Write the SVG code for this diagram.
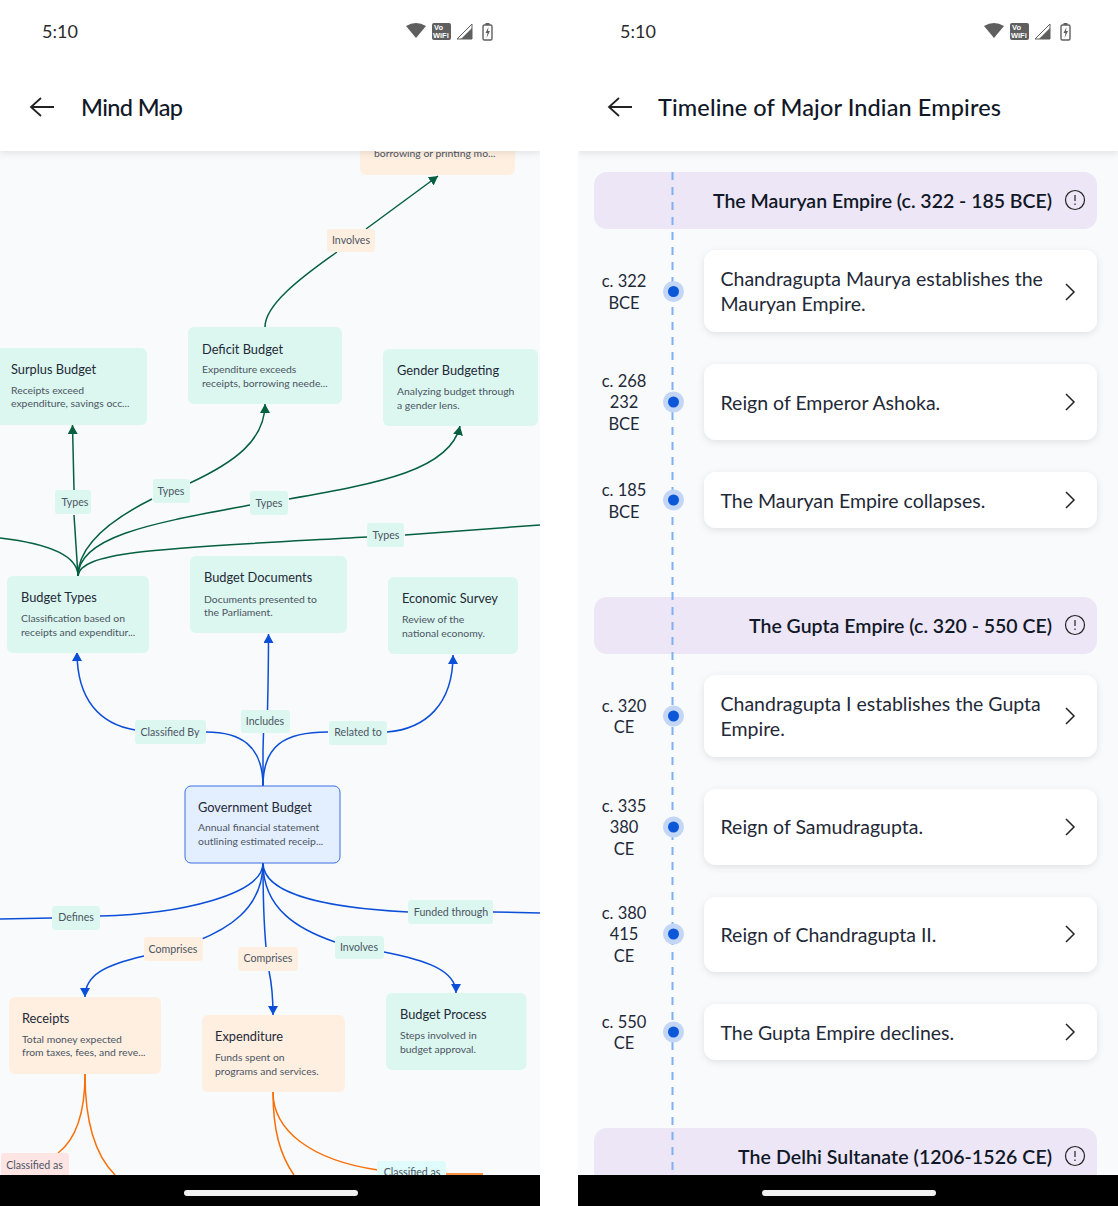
<svg xmlns="http://www.w3.org/2000/svg" width="1118" height="1206" viewBox="0 0 1118 1206">
<defs>
<style>
text{font-family:"Lato","Noto Sans",sans-serif}
.clk{font-size:18px;fill:#2b2b2b}
.hd{font-size:23.5px;fill:#111827;font-weight:500}
.nt{font-size:12.8px;fill:#1f2937}
.nd{font-size:10.4px;fill:#4b5563;transform:translateY(-.8px)}
.lb{font-size:10.6px;fill:#4b5563;text-anchor:middle}
.g{fill:#dcf7ef}.o{fill:#ffefe1}
.ln{fill:none;stroke-width:1.5}
.blue{stroke:#0b4fd8}.green{stroke:#04603f}.orange{stroke:#f97008}
.tl{font-size:16.5px;fill:#1f2937;text-anchor:middle}
.ct{font-size:19.500px;fill:#1f2937}
.sh{font-size:19.500px;fill:#111827;font-weight:600;text-anchor:end}
.chev{fill:none;stroke:#222;stroke-width:1.5}
</style>
<marker id="ab" markerWidth="9" markerHeight="10" refX="9" refY="5" orient="auto" markerUnits="userSpaceOnUse" viewBox="0 0 9 10"><path d="M0 0L9 5L0 10Z" fill="#0b4fd8"/></marker>
<marker id="ag" markerWidth="9" markerHeight="10" refX="9" refY="5" orient="auto" markerUnits="userSpaceOnUse" viewBox="0 0 9 10"><path d="M0 0L9 5L0 10Z" fill="#04603f"/></marker>
<filter id="s" x="-10%" y="-20%" width="120%" height="150%"><feDropShadow dx="0" dy="2" stdDeviation="3.5" flood-color="#000" flood-opacity=".1"/></filter>
<g id="status"><path d="M-10 -5Q0 -11 10 -5L0 7Z" fill="#5f5f5f"/><rect x="16" y="-8" width="19" height="17" rx="2" fill="#5f5f5f"/><text x="18" y="-1" font-size="7.500" font-weight="700" fill="#fff" style="font-family:'Liberation Sans'">Vo</text><text x="17" y="7" font-size="7.500" font-weight="700" fill="#fff" style="font-family:'Liberation Sans'">WiFi</text><path d="M41 8L56 -7V8Z" fill="none" stroke="#5f5f5f" stroke-width="1"/><path d="M45 8L56 -3V8Z" fill="#5f5f5f"/><rect x="67" y="-6" width="9" height="15" rx="1.500" fill="none" stroke="#5f5f5f" stroke-width="1.400"/><rect x="69.500" y="-8" width="4" height="2" fill="#5f5f5f"/><path d="M72.500 -4L69.500 2H71.500L70.500 7L74 0H72Z" fill="#5f5f5f"/></g>
</defs>
<rect width="1118" height="1206" fill="#fff"/>
<rect x="0" y="151" width="540" height="1024" fill="#f8fafc"/>
<rect x="578" y="151" width="540" height="1024" fill="#f8fafc"/>

<g id="connectors">
<path class="ln blue" d="M263 786C263 745 240 732 206 732"/><path class="ln blue" d="M135 730C100 724 77 700 77 652" marker-end="url(#ab)"/>
<path class="ln blue" d="M263 786V750L263.500 733"/><path class="ln blue" d="M267.500 710C268 690 268.500 660 268.500 634" marker-end="url(#ab)"/>
<path class="ln blue" d="M263 786C263 745 285 732 328 732"/><path class="ln blue" d="M387 732C425 729 453 705 453 655" marker-end="url(#ab)"/>
<path class="ln blue" d="M263 863C263 895 180 914 100 916"/><path class="ln blue" d="M52 918L0 919"/>
<path class="ln blue" d="M263 863C263 910 225 930 197 941"/><path class="ln blue" d="M144 956C105 965 85 975 85 997" marker-end="url(#ab)"/>
<path class="ln blue" d="M263 863C263 900 264 925 266 947"/><path class="ln blue" d="M269 971C272 985 273 1000 273 1015" marker-end="url(#ab)"/>
<path class="ln blue" d="M263 863C263 910 300 930 335 942"/><path class="ln blue" d="M384 952C425 960 456 970 456 993" marker-end="url(#ab)"/>
<path class="ln blue" d="M263 863C263 895 330 908 408 912"/><path class="ln blue" d="M493 912L540 913"/>

<path class="ln green" d="M78 576C78 560 60 545 0 538"/>
<path class="ln green" d="M78 576L74 515"/><path class="ln green" d="M74 490L72.500 425" marker-end="url(#ag)"/>
<path class="ln green" d="M78 576C78 545 110 520 152 499"/><path class="ln green" d="M190 483C235 462 265 440 265 404" marker-end="url(#ag)"/>
<path class="ln green" d="M78 576C78 535 160 522 250 505"/><path class="ln green" d="M289 499C380 483 450 470 460 426" marker-end="url(#ag)"/>
<path class="ln green" d="M78 576C80 550 170 548 367 537"/><path class="ln green" d="M405 535L540 525"/>
<path class="ln green" d="M265 327C265 305 300 278 337 252"/><path class="ln green" d="M366 229L438 176" marker-end="url(#ag)"/>

<path class="ln orange" d="M85 1074C85 1115 75 1140 58 1153"/>
<path class="ln orange" d="M85 1074C85 1120 95 1155 115 1175"/>
<path class="ln orange" d="M273 1092C273 1130 280 1155 294 1175"/>
<path class="ln orange" d="M273 1092C273 1130 310 1160 378 1170"/>
<path class="ln orange" d="M445 1174H483"/>
</g>

<g id="top-node"><path class="o" d="M360 151H515V169a6 6 0 0 1-6 6H366a6 6 0 0 1-6-6Z"/><text class="nd" x="374" y="158">borrowing or printing mo...</text></g>
<g id="surplus"><path class="g" d="M0 348H141a6 6 0 0 1 6 6V419a6 6 0 0 1-6 6H0Z"/><text class="nt" x="11" y="373.500">Surplus Budget</text><text class="nd" x="11" y="395">Receipts exceed</text><text class="nd" x="11" y="408">expenditure, savings occ...</text></g>
<g id="deficit"><rect class="g" x="188" y="327" width="154" height="77" rx="6"/><text class="nt" x="202" y="353.500">Deficit Budget</text><text class="nd" x="202" y="374">Expenditure exceeds</text><text class="nd" x="202" y="388">receipts, borrowing neede...</text></g>
<g id="gender"><rect class="g" x="383" y="349" width="155" height="77" rx="6"/><text class="nt" x="397" y="375">Gender Budgeting</text><text class="nd" x="397" y="396">Analyzing budget through</text><text class="nd" x="397" y="410">a gender lens.</text></g>
<g id="types"><rect class="g" x="7" y="576" width="142" height="77" rx="6"/><text class="nt" x="21" y="601.500">Budget Types</text><text class="nd" x="21" y="623">Classification based on</text><text class="nd" x="21" y="637">receipts and expenditur...</text></g>
<g id="docs"><rect class="g" x="190" y="556" width="157" height="77" rx="6"/><text class="nt" x="204" y="582">Budget Documents</text><text class="nd" x="204" y="604">Documents presented to</text><text class="nd" x="204" y="617">the Parliament.</text></g>
<g id="survey"><rect class="g" x="388" y="577" width="130" height="77" rx="6"/><text class="nt" x="402" y="603">Economic Survey</text><text class="nd" x="402" y="624">Review of the</text><text class="nd" x="402" y="638">national economy.</text></g>
<g id="gov"><rect x="185" y="786" width="155" height="77" rx="6" fill="#e3eeff" stroke="#3b6fe0" stroke-width="1"/><text class="nt" x="198" y="811.500">Government Budget</text><text class="nd" x="198" y="832">Annual financial statement</text><text class="nd" x="198" y="846">outlining estimated receip...</text></g>
<g id="receipts"><rect class="o" x="9" y="997" width="152" height="77" rx="6"/><text class="nt" x="22" y="1023">Receipts</text><text class="nd" x="22" y="1044">Total money expected</text><text class="nd" x="22" y="1057">from taxes, fees, and reve...</text></g>
<g id="expenditure"><rect class="o" x="202" y="1015" width="143" height="77" rx="6"/><text class="nt" x="215" y="1041">Expenditure</text><text class="nd" x="215" y="1062">Funds spent on</text><text class="nd" x="215" y="1076">programs and services.</text></g>
<g id="process"><rect class="g" x="386" y="993" width="140.500" height="77" rx="6"/><text class="nt" x="400" y="1019">Budget Process</text><text class="nd" x="400" y="1040">Steps involved in</text><text class="nd" x="400" y="1054">budget approval.</text></g>

<g id="labels">
<rect class="o" x="327" y="229" width="48" height="23" rx="3"/><text class="lb" x="351" y="244">Involves</text>
<rect class="g" x="55" y="490" width="36" height="24" rx="3"/><text class="lb" x="75" y="506">Types</text>
<rect class="g" x="153" y="479" width="37" height="24" rx="3"/><text class="lb" x="171" y="495">Types</text>
<rect class="g" x="250" y="491" width="38" height="24" rx="3"/><text class="lb" x="269" y="507">Types</text>
<rect class="g" x="367" y="523" width="37" height="24" rx="3"/><text class="lb" x="386" y="539">Types</text>
<rect class="g" x="135" y="720" width="71" height="24" rx="3"/><text class="lb" x="170" y="736">Classified By</text>
<rect class="g" x="241" y="710" width="49" height="23" rx="3"/><text class="lb" x="265" y="725">Includes</text>
<rect class="g" x="329" y="721" width="58" height="24" rx="3"/><text class="lb" x="358" y="736">Related to</text>
<rect class="g" x="52" y="906" width="48" height="24" rx="3"/><text class="lb" x="76" y="921">Defines</text>
<rect class="g" x="408" y="900" width="85" height="24" rx="3"/><text class="lb" x="451" y="916">Funded through</text>
<rect class="o" x="144" y="937" width="59" height="24" rx="3"/><text class="lb" x="173" y="953">Comprises</text>
<rect class="o" x="238" y="947" width="60" height="24" rx="3"/><text class="lb" x="268" y="962">Comprises</text>
<rect class="g" x="335" y="936" width="49" height="23" rx="3"/><text class="lb" x="359" y="951">Involves</text>
<rect x="1" y="1153" width="68" height="24" rx="3" fill="#ffe4e4"/><text class="lb" x="34.500" y="1169">Classified as</text>
<rect x="377" y="1161" width="69" height="24" rx="3" fill="#dffbfb"/><text class="lb" x="412" y="1176">Classified as</text>
</g>

<g id="timeline">
<g id="sec1"><rect x="594" y="172" width="503" height="57" rx="13" fill="#ece6f6"/><text class="sh" x="1052" y="208" textLength="339">The Mauryan Empire (c. 322 - 185 BCE)</text></g>
<g id="sec2"><rect x="594" y="597" width="503" height="57" rx="13" fill="#ece6f6"/><text class="sh" x="1052" y="632.500" textLength="303">The Gupta Empire (c. 320 - 550 CE)</text></g>
<g id="sec3"><path d="M594 1175V1141a13 13 0 0 1 13-13H1084a13 13 0 0 1 13 13V1175Z" fill="#ece6f6"/><text class="sh" x="1052" y="1164" textLength="314">The Delhi Sultanate (1206-1526 CE)</text></g>
<path d="M672.500 172V1175" stroke="#7fb0f5" stroke-width="2" stroke-dasharray="8 7" fill="none"/>
<g fill="none" stroke="#222" stroke-width="1.200"><circle cx="1075" cy="200" r="9.500"/><circle cx="1075" cy="625" r="9.500"/><circle cx="1075" cy="1156" r="9.500"/><path d="M1075 195V201M1075 203.500V205M1075 620V626M1075 628.500V630M1075 1151V1157M1075 1159.500V1161"/></g>

<g filter="url(#s)" fill="#fff"><rect x="704" y="250" width="393" height="82" rx="12"/><rect x="704" y="364" width="393" height="76" rx="12"/><rect x="704" y="472" width="393" height="56" rx="12"/><rect x="704" y="675" width="393" height="82" rx="12"/><rect x="704" y="789" width="393" height="76" rx="12"/><rect x="704" y="897" width="393" height="75" rx="12"/><rect x="704" y="1004" width="393" height="56" rx="12"/></g>
<g id="e1"><circle cx="673.500" cy="291.500" r="10.500" fill="#c3d6f6"/><circle cx="673.500" cy="291.500" r="5.500" fill="#0b57d8"/><text class="tl"><tspan x="624" y="287">c. 322</tspan><tspan x="624" y="309">BCE</tspan></text><text class="ct" x="720.500" y="286">Chandragupta Maurya establishes the</text><text class="ct" x="720.500" y="311">Mauryan Empire.</text><path class="chev" d="M1066 284L1074 292L1066 300"/></g>
<g id="e2"><circle cx="673.500" cy="402" r="10.500" fill="#c3d6f6"/><circle cx="673.500" cy="402" r="5.500" fill="#0b57d8"/><text class="tl"><tspan x="624" y="387">c. 268</tspan><tspan x="624" y="408">232</tspan><tspan x="624" y="430">BCE</tspan></text><text class="ct" x="720.500" y="410">Reign of Emperor Ashoka.</text><path class="chev" d="M1066 394L1074 402L1066 410"/></g>
<g id="e3"><circle cx="673.500" cy="500" r="10.500" fill="#c3d6f6"/><circle cx="673.500" cy="500" r="5.500" fill="#0b57d8"/><text class="tl"><tspan x="624" y="496">c. 185</tspan><tspan x="624" y="518">BCE</tspan></text><text class="ct" x="720.500" y="507.500">The Mauryan Empire collapses.</text><path class="chev" d="M1066 492L1074 500L1066 508"/></g>
<g id="e4"><circle cx="673.500" cy="716" r="10.500" fill="#c3d6f6"/><circle cx="673.500" cy="716" r="5.500" fill="#0b57d8"/><text class="tl"><tspan x="624" y="712">c. 320</tspan><tspan x="624" y="733">CE</tspan></text><text class="ct" x="720.500" y="710.500">Chandragupta I establishes the Gupta</text><text class="ct" x="720.500" y="735.500">Empire.</text><path class="chev" d="M1066 708L1074 716L1066 724"/></g>
<g id="e5"><circle cx="673.500" cy="827" r="10.500" fill="#c3d6f6"/><circle cx="673.500" cy="827" r="5.500" fill="#0b57d8"/><text class="tl"><tspan x="624" y="812">c. 335</tspan><tspan x="624" y="833">380</tspan><tspan x="624" y="855">CE</tspan></text><text class="ct" x="720.500" y="834">Reign of Samudragupta.</text><path class="chev" d="M1066 819L1074 827L1066 835"/></g>
<g id="e6"><circle cx="673.500" cy="934" r="10.500" fill="#c3d6f6"/><circle cx="673.500" cy="934" r="5.500" fill="#0b57d8"/><text class="tl"><tspan x="624" y="919">c. 380</tspan><tspan x="624" y="940">415</tspan><tspan x="624" y="962">CE</tspan></text><text class="ct" x="720.500" y="941.500">Reign of Chandragupta II.</text><path class="chev" d="M1066 926L1074 934L1066 942"/></g>
<g id="e7"><circle cx="673.500" cy="1032" r="10.500" fill="#c3d6f6"/><circle cx="673.500" cy="1032" r="5.500" fill="#0b57d8"/><text class="tl"><tspan x="624" y="1028">c. 550</tspan><tspan x="624" y="1049">CE</tspan></text><text class="ct" x="720.500" y="1039.500">The Gupta Empire declines.</text><path class="chev" d="M1066 1024L1074 1032L1066 1040"/></g>
</g>

<g id="header-left"><rect x="0" y="0" width="540" height="151" fill="#fff" filter="url(#s)"/><text class="clk" x="42" y="38">5:10</text><use href="#status" x="416" y="31"/><path d="M54 107H31M41 98L31 107L41 116" fill="none" stroke="#222" stroke-width="1.800"/><text class="hd" x="81" y="115.500" textLength="102">Mind Map</text></g>
<g id="header-right"><rect x="578" y="0" width="540" height="151" fill="#fff" filter="url(#s)"/><text class="clk" x="620" y="38">5:10</text><use href="#status" x="994" y="31"/><path d="M632 107H609M619 98L609 107L619 116" fill="none" stroke="#222" stroke-width="1.800"/><text class="hd" x="658" y="115.500" textLength="343">Timeline of Major Indian Empires</text></g>
<rect x="540" y="0" width="38" height="1206" fill="#fff"/>
<g id="nav"><rect x="0" y="1175" width="540" height="31" fill="#000"/><rect x="578" y="1175" width="540" height="31" fill="#000"/><rect x="184" y="1190" width="174" height="6" rx="3" fill="#f1f1f1"/><rect x="762" y="1190" width="174" height="6" rx="3" fill="#f1f1f1"/></g>
</svg>
